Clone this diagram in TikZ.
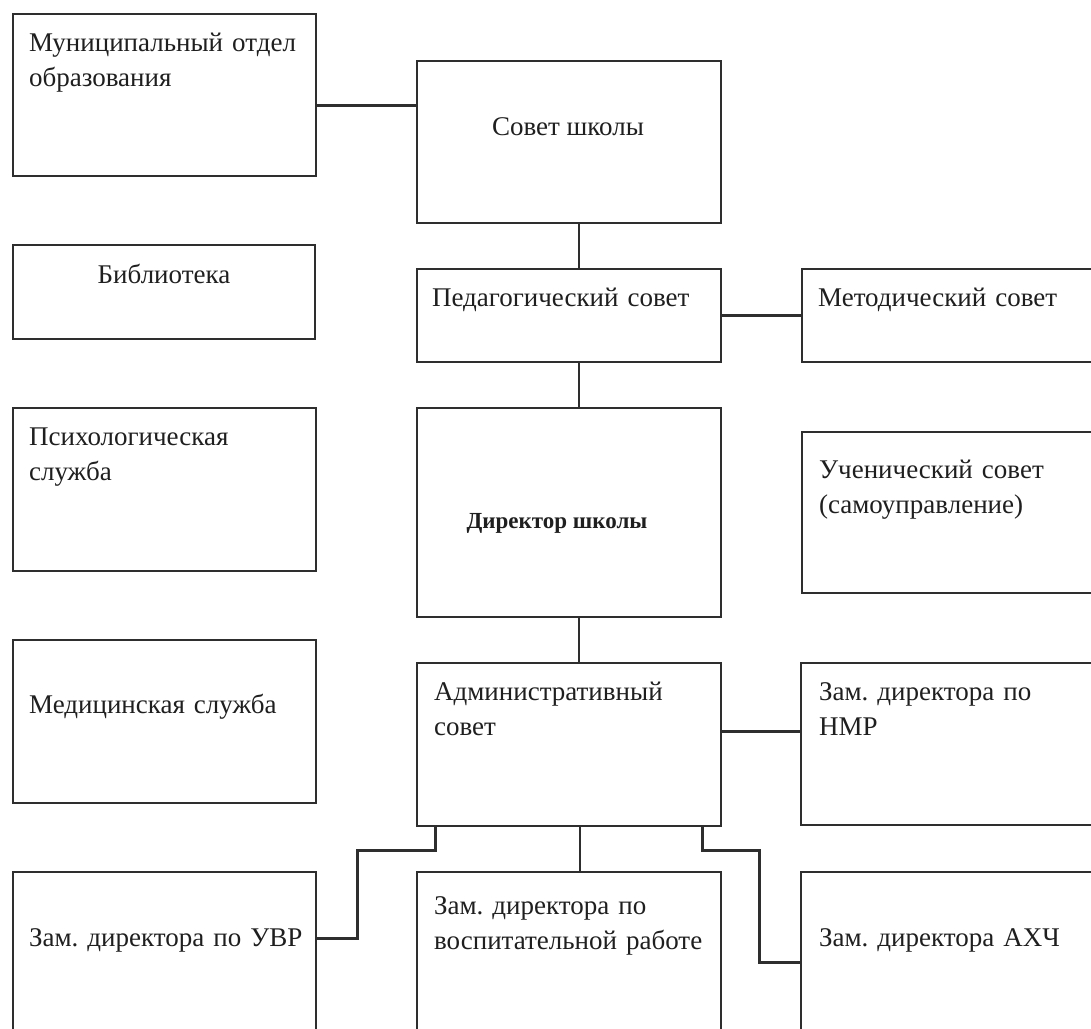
\documentclass[tikz,border=0pt]{standalone}
\usepackage{fontspec}
\setmainfont{Liberation Serif}
\usetikzlibrary{calc,fit}
\frenchspacing
\begin{document}
\begin{tikzpicture}[x=0.5pt,y=-0.5pt,
  box/.style={draw=black!82,line width=1.3pt,inner sep=0pt,rectangle},
  lbl/.style={inner sep=0pt,text=black!88,font=\fontsize{13.5}{17.5}\selectfont},
  mlbl/.style={lbl,text width=145pt,align=left,anchor=base west},
  clbl/.style={lbl,anchor=base},
  link/.style={draw=black!82,line width=1.3pt}]
\useasboundingbox (0,0) rectangle (1091,1028);
\clip (0,0) rectangle (1091,1028);
\fill[white] (0,0) rectangle (1091,1028);
% boxes
\node[box,fit={(13,14)(316,176)}] (mun) {};
\node[box,fit={(417,61)(721,223)}] (sov) {};
\node[box,fit={(13,245)(315,339)}] (bib) {};
\node[box,fit={(417,269)(721,362)}] (ped) {};
\node[box,fit={(802,269)(1120,362)}] (met) {};
\node[box,fit={(13,408)(316,571)}] (psy) {};
\node[box,fit={(417,408)(721,617)}] (dir) {};
\node[box,fit={(802,432)(1120,593)}] (uch) {};
\node[box,fit={(13,640)(316,803)}] (med) {};
\node[box,fit={(417,663)(721,826)}] (adm) {};
\node[box,fit={(801,663)(1120,825)}] (nmr) {};
\node[box,fit={(13,872)(316,1060)}] (uvr) {};
\node[box,fit={(417,872)(721,1060)}] (vos) {};
\node[box,fit={(801,872)(1120,1060)}] (ahch) {};
% labels
\node[mlbl] (mun-t) at ($(mun.north west)+(17,39)$) {Муниципальный отдел\\образования};
\node[clbl] (sov-t) at ($(sov.north)+(-1,76)$) {Совет школы};
\node[clbl] (bib-t) at ($(bib.north)+(0,40)$) {Библиотека};
\node[mlbl] (ped-t) at ($(ped.north west)+(16,39)$) {Педагогический совет};
\node[mlbl] (met-t) at ($(met.north west)+(17,39)$) {Методический совет};
\node[mlbl] (psy-t) at ($(psy.north west)+(17,39)$) {Психологическая\\служба};
\node[lbl,anchor=base,font=\fontsize{11.5}{14}\selectfont\bfseries] (dir-t) at ($(dir.north)+(-12,122)$) {Директор школы};
\node[mlbl] (uch-t) at ($(uch.north west)+(18,48)$) {Ученический совет\\(самоуправление)};
\node[mlbl] (med-t) at ($(med.north west)+(17,75)$) {Медицинская служба};
\node[mlbl] (adm-t) at ($(adm.north west)+(18,39)$) {Административный\\совет};
\node[mlbl] (nmr-t) at ($(nmr.north west)+(19,39)$) {Зам. директора по\\НМР};
\node[mlbl] (uvr-t) at ($(uvr.north west)+(17,76)$) {Зам. директора по УВР};
\node[mlbl] (vos-t) at ($(vos.north west)+(18,44)$) {Зам. директора по\\воспитательной работе};
\node[mlbl] (ahch-t) at ($(ahch.north west)+(19,76)$) {Зам. директора АХЧ};
% connectors
\draw[link] ($(mun.north east)+(0,93)$) coordinate (c1) -- (c1 -| sov.west);
\draw[link] ($(sov.south)+(10,0)$) coordinate (c2) -- (c2 |- ped.north);
\draw[link] (ped.east) -- (met.west);
\draw[link] ($(ped.south)+(10,0)$) coordinate (c3) -- (c3 |- dir.north);
\draw[link] ($(dir.south)+(10,0)$) coordinate (c4) -- (c4 |- adm.north);
\draw[link] ($(adm.north east)+(0,70)$) coordinate (c5) -- (c5 -| nmr.west);
\draw[link] ($(adm.south)+(11,0)$) coordinate (c6) -- (c6 |- vos.north);
\draw[link] ($(adm.south west)+(20,0)$) -- ++(0,23) -| ($(uvr.north east)+(40,68)$) -- ($(uvr.north east)+(0,68)$);
\draw[link] ($(adm.south east)+(-20,0)$) -- ++(0,23) -| ($(ahch.north west)+(-40,92)$) -- ($(ahch.north west)+(0,92)$);
\end{tikzpicture}
\end{document}
